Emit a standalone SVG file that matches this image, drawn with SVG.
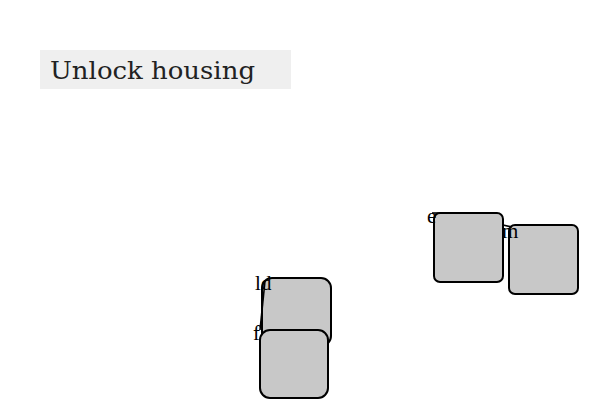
<svg xmlns="http://www.w3.org/2000/svg" width="600" height="400" viewBox="0 0 600 400">
<style>
.node{fill:#c8c8c8;stroke:#000;stroke-width:2}
.lbl{font-family:"Liberation Serif","DejaVu Serif",serif;font-size:21px;fill:#000}
.edge{stroke:#000;stroke-width:1.6;fill:none}
</style>
<rect width="600" height="400" fill="#fff"/>
<g id="title">
<rect x="40" y="50" width="251" height="39" fill="#efefef"/>
<text x="50" y="79" font-family="'DejaVu Serif','Liberation Serif',serif" font-size="24" textLength="205" lengthAdjust="spacingAndGlyphs" fill="#222">Unlock housing</text>
</g>
<g id="node-d">
<rect class="node" x="262" y="278" width="69" height="68" rx="10"/>
</g>
<g id="node-f">
<rect class="node" x="260" y="330" width="68" height="68" rx="10"/>
</g>
<g id="node-e">
<rect class="node" x="434" y="213" width="69" height="69" rx="6"/>
</g>
<g id="node-m">
<rect class="node" x="509" y="225" width="69" height="69" rx="6"/>
</g>
<g id="connectors">
<line class="edge" x1="265" y1="281" x2="260" y2="330"/>
<line class="edge" x1="432" y1="213" x2="442" y2="213"/>
<line class="edge" x1="503" y1="225" x2="512" y2="227"/>
</g>
<g id="labels">
<text class="lbl" x="255" y="290">l</text>
<text class="lbl" x="261" y="290">d</text>
<text class="lbl" x="253" y="340">f</text>
<text class="lbl" x="427" y="223">e</text>
<text class="lbl" x="502" y="238">m</text>
</g>
</svg>
